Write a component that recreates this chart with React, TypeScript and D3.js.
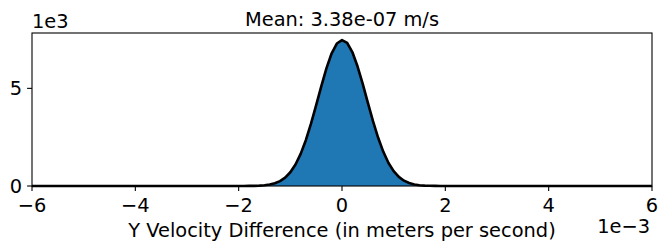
import React from 'react'
import * as d3 from 'd3'

// bin centres in units of 1e-3 m/s, counts per bin
const binCenters = [
  -6, -2.0, -1.9, -1.8, -1.7, -1.6, -1.5, -1.4, -1.3, -1.2, -1.1, -1.0, -0.9, -0.8, -0.7, -0.6, -0.5, -0.4, -0.3, -0.2, -0.1,
  0, 0.1, 0.2, 0.3, 0.4, 0.5, 0.6, 0.7, 0.8, 0.9, 1.0, 1.1, 1.2, 1.3, 1.4, 1.5, 1.6, 1.7, 1.8, 1.9, 2.0, 6,
]
const counts = [
  0, 1, 2, 4, 8, 18, 37, 73, 138, 248, 428, 703, 1102, 1646, 2346, 3190, 4137, 5118, 6038, 6797, 7296,
  7470, 7330, 6860, 6130, 5240, 4270, 3320, 2470, 1750, 1180, 760, 465, 272, 152, 81, 41, 20, 9, 4, 2, 1, 0,
]
const xTicks = [-6, -4, -2, 0, 2, 4, 6]
const yTicks = [0, 5]
const title = 'Mean: 3.38e-07 m/s'
const xLabel = 'Y Velocity Difference (in meters per second)'

const W = 668, H = 250
const margin = { top: 33, right: 16, bottom: 64, left: 32 }
const font = 'DejaVu Sans, sans-serif'

export default function App() {
  const w = W - margin.left - margin.right
  const h = H - margin.top - margin.bottom
  const x = d3.scaleLinear().domain([-6, 6]).range([0, w])
  const y = d3.scaleLinear().domain([0, 7.835]).range([h, 0])
  const pts = binCenters.map((c, i) => [c, counts[i] / 1000] as [number, number])

  const area = d3.area<[number, number]>().x(d => x(d[0])).y0(h).y1(d => y(d[1]))
  const line = d3.line<[number, number]>().x(d => x(d[0])).y(d => y(d[1]))
  const fmt = (v: number) => d3.format('d')(v)

  return (
    <svg width={W} height={H} style={{ position: 'absolute', left: 0, top: 0, background: '#fff' }}>
      <g transform={`translate(${margin.left},${margin.top})`}>
        <path d={area(pts) || ''} fill="#1f77b4" />
        <path d={line(pts) || ''} fill="none" stroke="#000" strokeWidth={2.6} strokeLinejoin="round" />
        <rect x={0} y={0} width={w} height={h} fill="none" stroke="#000" strokeWidth={1.1} />
        {xTicks.map(t => (
          <g key={'x' + t} transform={`translate(${x(t)},${h})`}>
            <line y2={4.9} stroke="#000" strokeWidth={1.1} />
            <text y={25.5} textAnchor="middle" fontFamily={font} fontSize={19.4}>{fmt(t)}</text>
          </g>
        ))}
        {yTicks.map(t => (
          <g key={'y' + t} transform={`translate(0,${y(t)})`}>
            <line x2={-4.9} stroke="#000" strokeWidth={1.1} />
            <text x={-9.8} dy="0.35em" textAnchor="end" fontFamily={font} fontSize={19.4}>{fmt(t)}</text>
          </g>
        ))}
      </g>
      <text x={margin.left} y={28.3} fontFamily={font} fontSize={19.4}>1e3</text>
      <text x={650} y={233.3} textAnchor="end" fontFamily={font} fontSize={19.4}>1e−3</text>
      <text x={margin.left + w / 2} y={25.5} textAnchor="middle" fontFamily={font} fontSize={19.4}>{title}</text>
      <text x={margin.left + w / 2} y={237.3} textAnchor="middle" fontFamily={font} fontSize={19.4}>{xLabel}</text>
    </svg>
  )
}
